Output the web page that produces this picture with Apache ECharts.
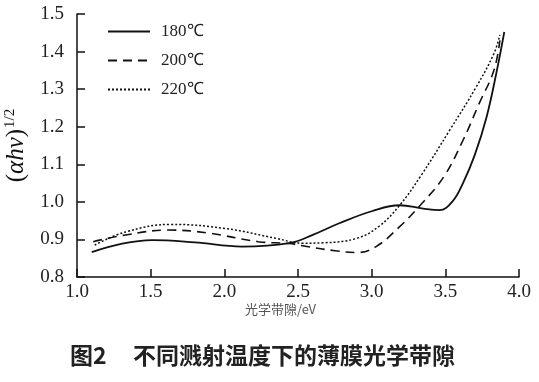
<!DOCTYPE html>
<html><head><meta charset="utf-8">
<script src="https://cdn.jsdelivr.net/npm/echarts@6/dist/echarts.min.js"></script>
<style>html,body{margin:0;padding:0;background:#fff}#c{width:539px;height:382px}</style>
</head><body><div id="c"></div>
<script>
const seriesNames = ['180℃', '200℃', '220℃'];
const xTicks = [1.0, 1.5, 2.0, 2.5, 3.0, 3.5, 4.0];
const yTicks = [0.8, 0.9, 1.0, 1.1, 1.2, 1.3, 1.4, 1.5];
const s180 = [[1.10,0.866],[1.30,0.888],[1.51,0.898],[1.80,0.892],[2.12,0.881],[2.44,0.890],[2.60,0.912],[2.78,0.943],[3.00,0.975],[3.19,0.991],[3.35,0.982],[3.46,0.978],[3.55,1.002],[3.62,1.050],[3.70,1.125],[3.78,1.226],[3.85,1.35],[3.90,1.452]];
const s200 = [[1.11,0.894],[1.33,0.912],[1.62,0.925],[1.89,0.917],[2.23,0.894],[2.44,0.889],[2.56,0.881],[2.75,0.870],[2.90,0.865],[3.03,0.881],[3.19,0.934],[3.33,0.991],[3.49,1.067],[3.62,1.164],[3.73,1.262],[3.83,1.35],[3.87,1.43]];
const s220 = [[1.12,0.885],[1.33,0.920],[1.64,0.940],[2.01,0.929],[2.35,0.903],[2.53,0.890],[2.67,0.891],[2.90,0.903],[3.05,0.935],[3.19,0.991],[3.33,1.067],[3.53,1.191],[3.71,1.306],[3.83,1.395],[3.87,1.444]];
const xName = '光学带隙/eV';
const captionNo = '图2';
const caption = '不同溅射温度下的薄膜光学带隙';

const chart = echarts.init(document.getElementById('c'), null, {renderer: 'canvas'});
const serif = '"Liberation Serif", "Times New Roman", serif';
const mk = (name, data, type, w) => ({
  name, type: 'line', data, smooth: 0.4, symbol: 'none',
  itemStyle: {color: '#111'},
  lineStyle: {color: '#111', width: w, type}
});
const tickRich = {t: {fontFamily: serif, fontSize: 19, color: '#222'}};
chart.setOption({
  animation: false,
  backgroundColor: '#fff',
  textStyle: {fontFamily: serif},
  grid: {left: 77, right: 20, top: 14, bottom: 105, containLabel: false, outerBoundsMode: 'none'},
  legend: {
    orient: 'vertical', left: 102, top: 18, itemWidth: 42, itemHeight: 14, itemGap: 12,
    itemStyle: {opacity: 0, borderWidth: 0},
    textStyle: {fontFamily: serif, fontSize: 17, color: '#222', padding: [0, 0, 0, 6]},
    data: seriesNames
  },
  xAxis: {
    type: 'value', min: xTicks[0], max: xTicks[xTicks.length - 1], interval: 0.5,
    axisLine: {lineStyle: {color: '#111', width: 1.5}},
    axisTick: {inside: true, length: 8, lineStyle: {color: '#111', width: 1.5}},
    axisLabel: {fontFamily: serif, fontSize: 19, color: '#222', margin: 6, rich: tickRich,
      formatter: v => '{t|' + v.toFixed(1) + '}'},
    splitLine: {show: false}
  },
  yAxis: {
    type: 'value', min: yTicks[0], max: yTicks[yTicks.length - 1], interval: 0.1,
    axisLine: {show: true, lineStyle: {color: '#111', width: 1.5}},
    axisTick: {show: true, inside: true, length: 8, lineStyle: {color: '#111', width: 1.5}},
    axisLabel: {fontFamily: serif, fontSize: 19, color: '#222', margin: 13, rich: tickRich,
      formatter: v => '{t|' + v.toFixed(1) + '}'},
    splitLine: {show: false},
    name: '{a|(}{i|αhv}{a|)}{s|1/2}', nameLocation: 'middle', nameRotate: 90, nameGap: 42,
    nameTextStyle: {
      rich: {
        a: {fontFamily: serif, fontSize: 25, color: '#111'},
        i: {fontFamily: serif, fontSize: 25, fontStyle: 'italic', color: '#111'},
        s: {fontFamily: serif, fontSize: 15, color: '#111', padding: [0, 0, 14, 1]}
      }
    }
  },
  graphic: [
    {type: 'text', left: 245, top: 303, style: {text: xName, font: '13px "Noto Sans CJK SC", serif', fill: '#555'}},
    {type: 'text', left: 70, top: 344, style: {text: captionNo, font: 'bold 23px "Noto Sans CJK SC"', fill: '#222'}},
    {type: 'text', left: 133, top: 344, style: {text: caption, font: 'bold 23px "Noto Sans CJK SC"', fill: '#222'}}
  ],
  series: [
    mk(seriesNames[0], s180, 'solid', 1.8),
    mk(seriesNames[1], s200, [9, 6], 1.6),
    mk(seriesNames[2], s220, [2, 2], 1.5)
  ]
});
</script></body></html>
